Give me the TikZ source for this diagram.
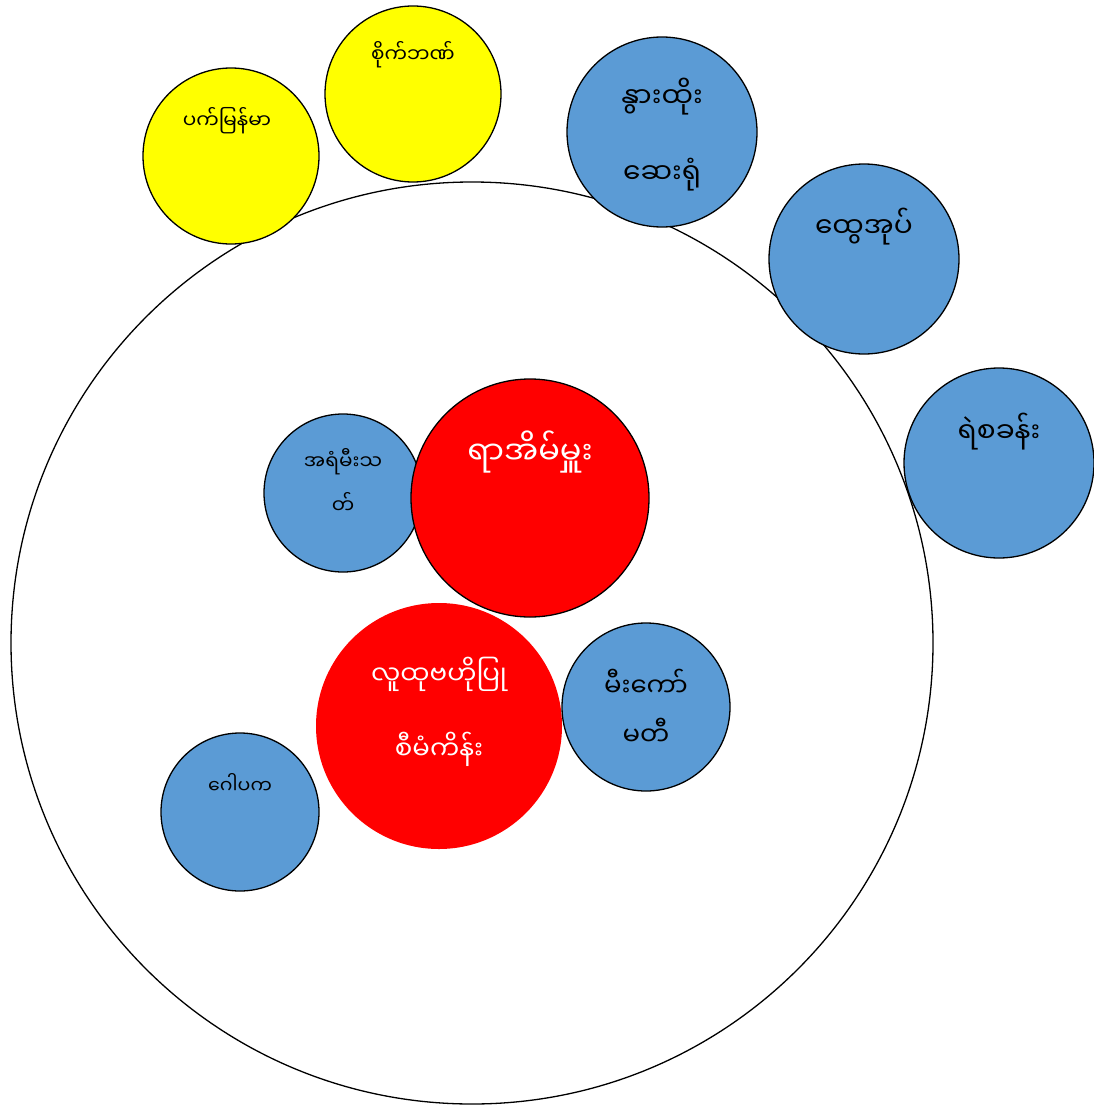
\documentclass[tikz,border=0pt]{standalone}
\usepackage{fontspec}
\newfontfamily\mmfont[Script=Myanmar]{Noto Sans Myanmar UI}
\definecolor{ringblue}{HTML}{5B9BD5}
\definecolor{ringyellow}{HTML}{FFFF00}
\definecolor{ringred}{HTML}{FF0000}
\tikzset{
  disc/.style={circle, draw=black, line width=1.3pt, inner sep=0pt, minimum size=#1},
  bluedisc/.style={disc=#1, fill=ringblue},
  yellowdisc/.style={disc=#1, fill=ringyellow},
  reddisc/.style={disc=#1, fill=ringred},
  tag/.style={font=\mmfont\fontsize{#1}{#1}\selectfont, align=center, inner sep=0pt},
  whitetag/.style={tag=#1, text=white},
}
\begin{document}
\begin{tikzpicture}[x=1pt, y=-1pt]
\useasboundingbox (0,0) rectangle (1094,1105);
% outer ring
\node[disc=922pt, fill=white] (ring) at (472,643) {};
% outside
\node[yellowdisc=176pt] (pak) at (231,156) {};
\node[yellowdisc=176pt] (bank) at (413,94) {};
\node[bluedisc=190pt] (hosp) at (662,132) {};
\node[bluedisc=190pt] (tgo) at (864,259) {};
\node[bluedisc=190pt] (police) at (999,463) {};
% inside
\node[bluedisc=158pt] (fire) at (343,493) {};
\node[reddisc=238pt] (head) at (530,498) {};
\node[reddisc=246pt, draw=none] (plan) at (439,726) {};
\node[bluedisc=168pt] (comm) at (646,707) {};
\node[bluedisc=158pt] (gopk) at (240,812) {};
% texts
\node[tag=20] (tpak) at (227,121) {ပက်မြန်မာ};
\node[tag=20] (tbank) at (413,55) {စိုက်ဘဏ်};
\node[tag=28] (thosp) at (662,135) {နွားထိုး\\[42pt]ဆေးရုံ};
\node[tag=28] (ttgo) at (864,227) {ထွေအုပ်};
\node[tag=28] (tpolice) at (999,432) {ရဲစခန်း};
\node[tag=20] (tfire) at (343,481) {အရံမီးသ\\[16pt]တ်};
\node[whitetag=32] (thead) at (530,452) {ရာအိမ်မှူး};
\node[whitetag=26] (tplan) at (439,712) {လူထုဗဟိုပြု\\[39pt]စီမံကိန်း};
\node[tag=26] (tcomm) at (646,707) {မီးကော်\\[21pt]မတီ};
\node[tag=19] (tgopk) at (240,783) {ဂေါပက};
\end{tikzpicture}
\end{document}
